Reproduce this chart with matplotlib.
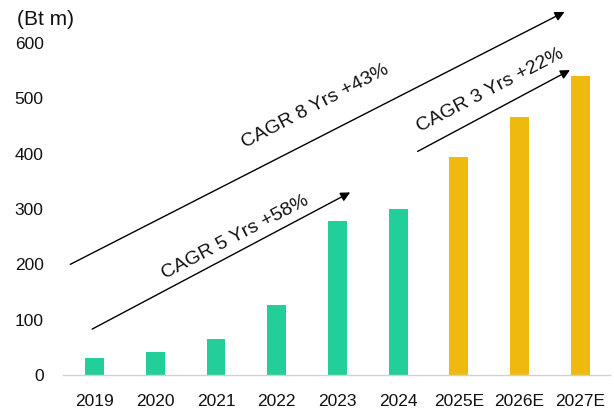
import matplotlib
matplotlib.use("Agg")
import matplotlib.pyplot as plt

plt.rcParams["font.family"] = ["Liberation Sans", "DejaVu Sans"]

# Revenue by year (Bt m), actuals then estimates
years = ["2019", "2020", "2021", "2022", "2023", "2024", "2025E", "2026E", "2027E"]
values = [31, 42, 65, 127, 279, 300, 394, 466, 540]
is_estimate = [False, False, False, False, False, False, True, True, True]

# CAGR arrows: label, start point, end point, label position (data coords)
cagr_labels = ["CAGR 8 Yrs +43%", "CAGR 5 Yrs +58%", "CAGR 3 Yrs +22%"]
arrow_start = [(-0.40, 200), (-0.04, 83), (5.32, 404)]
arrow_end = [(7.74, 656), (4.21, 330), (7.83, 551)]
text_pos = [(3.63, 485), (2.31, 249), (6.51, 515)]

GREEN = "#22CE99"
YELLOW = "#F0B90E"

fig = plt.figure(figsize=(6.14, 4.09), dpi=100)
ax = fig.add_axes([0.1026, 0.083, 0.891, 0.812])

colors = [YELLOW if e else GREEN for e in is_estimate]
x = range(len(years))
ax.bar(x, values, width=0.31, color=colors, zorder=2)

ax.set_xlim(-0.52, 8.49)
ax.set_ylim(0, 600)
ax.set_xticks(list(x))
ax.set_xticklabels(years)
ax.set_yticks(range(0, 700, 100))

for side in ["top", "right", "left"]:
    ax.spines[side].set_visible(False)
ax.spines["bottom"].set_color("#d0d0d0")
ax.spines["bottom"].set_linewidth(1.0)
ax.tick_params(axis="both", length=0, labelsize=12.5, colors="#111111")
ax.tick_params(axis="y", pad=14)
ax.tick_params(axis="x", pad=14)

fig.text(0.027, 0.952, "(Bt m)", fontsize=15, color="#111111", va="center")

for label, s, e, t in zip(cagr_labels, arrow_start, arrow_end, text_pos):
    ax.annotate("", xy=e, xytext=s, annotation_clip=False,
                arrowprops=dict(arrowstyle="-|>", color="black", lw=1.0,
                                mutation_scale=14, shrinkA=0, shrinkB=0))
    ax.text(t[0], t[1], label, fontsize=14, rotation=27.5,
            rotation_mode="anchor", ha="center", va="center", color="#111111")

fig.savefig("out.png", dpi=100)
